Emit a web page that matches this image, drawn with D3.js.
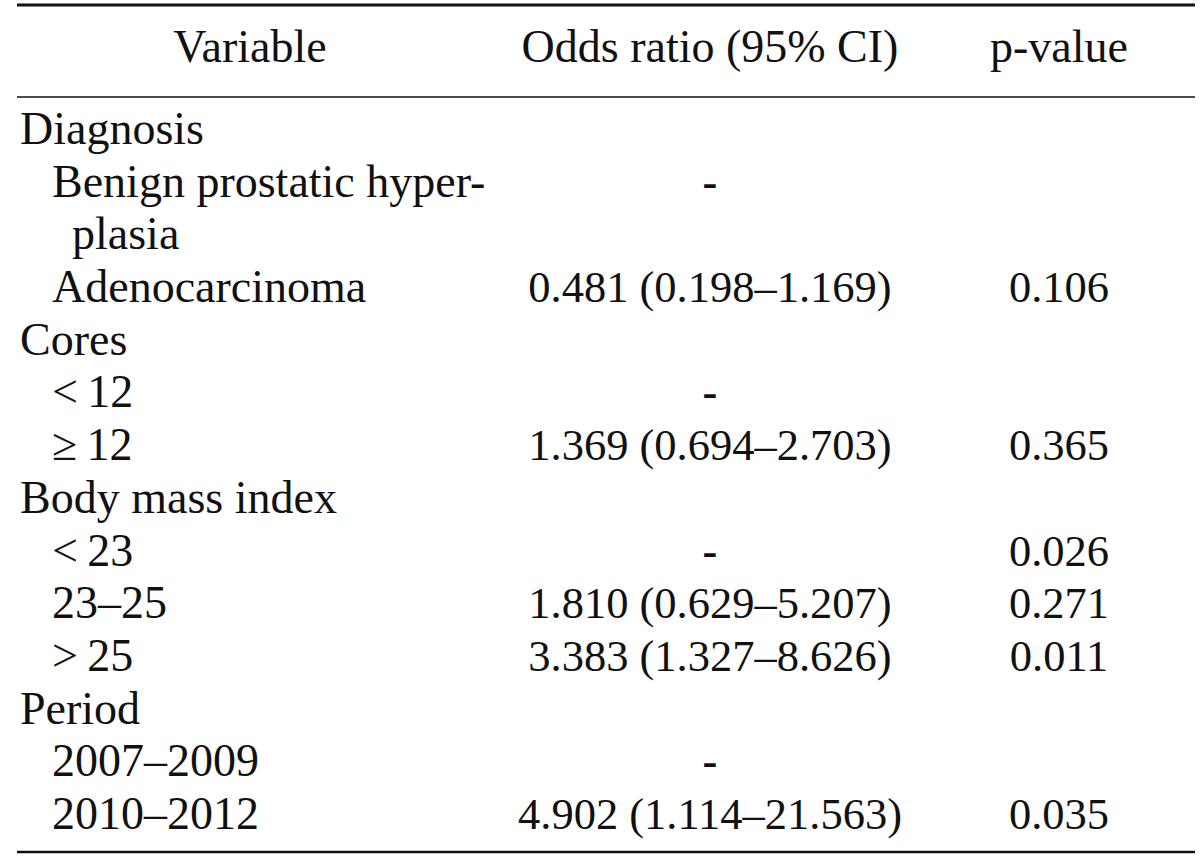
<!DOCTYPE html>
<html>
<head>
<meta charset="utf-8">
<script src="https://cdn.jsdelivr.net/npm/d3@7"></script>
</head>
<body style="margin:0">
<svg id="tbl" width="1200" height="859"></svg>
<script>
// ---- Data ----
const headers = ["Variable", "Odds ratio (95% CI)", "p-value"];
const variables = [
  "Diagnosis",
  "Benign prostatic hyper-",
  "plasia",
  "Adenocarcinoma",
  "Cores",
  "<\u200912",
  "\u2265\u200912",
  "Body mass index",
  "<\u200923",
  "23\u201325",
  ">\u200925",
  "Period",
  "2007\u20132009",
  "2010\u20132012"
];
const levels = [0, 1, 2, 1, 0, 1, 1, 0, 1, 1, 1, 0, 1, 1];
const oddsRatios = ["", "-", "", "0.481 (0.198\u20131.169)", "", "-", "1.369 (0.694\u20132.703)", "", "-", "1.810 (0.629\u20135.207)", "3.383 (1.327\u20138.626)", "", "-", "4.902 (1.114\u201321.563)"];
const pValues = ["", "", "", "0.106", "", "", "0.365", "", "0.026", "0.271", "0.011", "", "", "0.035"];

// ---- Layout ----
const svg = d3.select("#tbl");
const textSize = 46, numSize = 44.5;

function styleText(sel, size) {
  return sel.attr("font-family", "Liberation Serif")
    .style("font-family", '"Liberation Serif", monospace', "important")
    .attr("font-size", size)
    .attr("fill", "#111");
}

const rowIdx = d3.range(variables.length);
const y = d3.scalePoint().domain(rowIdx).range([144, 829]);
const colX = d3.scaleOrdinal().domain(headers).range([250, 710, 1059]);
const indent = d3.scaleOrdinal().domain([0, 1, 2]).range([20, 52, 72]);

// rules
const lineX0 = 17, lineX1 = 1195;
svg.append("line").attr("x1", lineX0).attr("x2", lineX1).attr("y1", 5).attr("y2", 5)
  .attr("stroke", "#111").attr("stroke-width", 3);
svg.append("line").attr("x1", lineX0).attr("x2", lineX1).attr("y1", 97).attr("y2", 97)
  .attr("stroke", "#111").attr("stroke-width", 1.6);
svg.append("line").attr("x1", lineX0).attr("x2", lineX1).attr("y1", 852).attr("y2", 852)
  .attr("stroke", "#111").attr("stroke-width", 2.6);

// header
styleText(svg.append("g").selectAll("text").data(headers).join("text")
  .attr("x", d => colX(d)).attr("y", 62)
  .attr("text-anchor", "middle"), textSize)
  .text(d => d);

// variable column
styleText(svg.append("g").selectAll("text").data(rowIdx).join("text")
  .attr("x", i => indent(levels[i])).attr("y", i => y(i)), textSize)
  .text(i => variables[i]);

// odds ratio column
styleText(svg.append("g").selectAll("text").data(rowIdx.filter(i => oddsRatios[i])).join("text")
  .attr("x", colX(headers[1])).attr("y", i => y(i))
  .attr("text-anchor", "middle"), numSize)
  .attr("font-weight", i => oddsRatios[i] === "-" ? "bold" : "normal")
  .text(i => oddsRatios[i]);

// p-value column
styleText(svg.append("g").selectAll("text").data(rowIdx.filter(i => pValues[i])).join("text")
  .attr("x", colX(headers[2])).attr("y", i => y(i))
  .attr("text-anchor", "middle"), numSize)
  .text(i => pValues[i]);
</script>
</body>
</html>
